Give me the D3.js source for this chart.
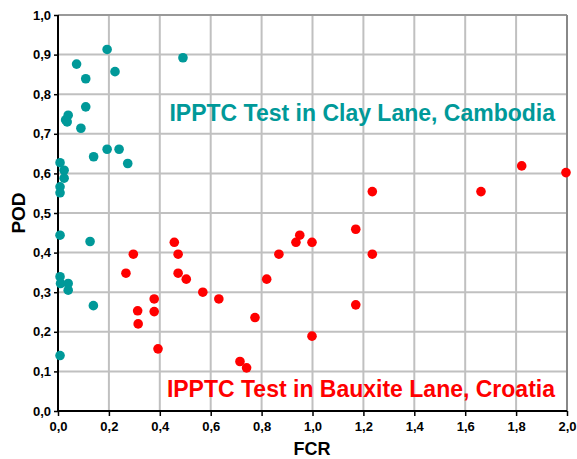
<!DOCTYPE html>
<html><head><meta charset="utf-8">
<script src="https://cdn.jsdelivr.net/npm/d3@7"></script>
<style>body{margin:0;background:#fff}svg{display:block}text{font-family:"Liberation Sans",Arial,sans-serif;font-weight:bold}</style>
</head><body>
<script>
const clayX = [0.193,0.491,0.073,0.224,0.109,0.109,0.040,0.030,0.036,0.090,0.140,0.193,0.240,0.274,0.008,0.024,0.024,0.008,0.008,0.008,0.126,0.008,0.010,0.040,0.040,0.139,0.008];
const clayY = [0.913,0.892,0.876,0.857,0.839,0.768,0.747,0.735,0.730,0.714,0.642,0.661,0.661,0.625,0.627,0.608,0.588,0.566,0.551,0.444,0.428,0.339,0.322,0.322,0.305,0.266,0.140];
const bauxX = [0.296,0.267,0.313,0.315,0.378,0.378,0.393,0.457,0.472,0.472,0.504,0.569,0.632,0.715,0.741,0.774,0.820,0.868,0.935,0.950,0.998,0.998,1.170,1.170,1.235,1.235,1.662,1.822,1.996];
const bauxY = [0.396,0.348,0.253,0.220,0.283,0.251,0.157,0.426,0.396,0.348,0.333,0.300,0.283,0.125,0.109,0.236,0.333,0.396,0.426,0.444,0.426,0.189,0.459,0.268,0.554,0.396,0.554,0.619,0.602];
const xTicks = [0,0.2,0.4,0.6,0.8,1.0,1.2,1.4,1.6,1.8,2.0];
const yTicks = [0,0.1,0.2,0.3,0.4,0.5,0.6,0.7,0.8,0.9,1.0];
const clayLabel = "IPPTC Test in Clay Lane, Cambodia";
const bauxLabel = "IPPTC Test in Bauxite Lane, Croatia";

const W=577,H=459;
const svg=d3.select("body").append("svg").attr("width",W).attr("height",H);
const x=d3.scaleLinear().domain([0,2]).range([58,567]);
const y=d3.scaleLinear().domain([0,1]).range([411,15]);
const fmt=d=>d3.format(".1f")(d).replace(".",",");

// grid
svg.append("g").selectAll("line").data(xTicks.slice(1,-1)).join("line")
  .attr("x1",d=>x(d)).attr("x2",d=>x(d)).attr("y1",y(1)).attr("y2",y(0))
  .attr("stroke","#c0c0c0").attr("stroke-width",2);
svg.append("g").selectAll("line").data(yTicks.slice(1,-1)).join("line")
  .attr("y1",d=>y(d)).attr("y2",d=>y(d)).attr("x1",x(0)).attr("x2",x(2))
  .attr("stroke","#c0c0c0").attr("stroke-width",2);
svg.append("line").attr("x1",x(0)).attr("x2",x(2)).attr("y1",y(1)).attr("y2",y(1)).attr("stroke","#999").attr("stroke-width",2);
svg.append("line").attr("x1",x(2)).attr("x2",x(2)).attr("y1",y(1)).attr("y2",y(0)).attr("stroke","#888").attr("stroke-width",2);

// axes
const xa=svg.append("g").attr("transform",`translate(0,${y(0)})`)
  .call(d3.axisBottom(x).tickValues(xTicks).tickFormat(fmt).tickSize(5).tickPadding(6));
const ya=svg.append("g").attr("transform",`translate(${x(0)},0)`)
  .call(d3.axisLeft(y).tickValues(yTicks).tickFormat(fmt).tickSize(4).tickPadding(3));
[xa,ya].forEach(a=>{
  a.select(".domain").attr("stroke","#000").attr("stroke-width",2);
  a.selectAll(".tick line").attr("stroke","#000").attr("stroke-width",1.5);
  a.selectAll(".tick text").attr("font-size",13).attr("fill","#000").attr("font-family",'"Liberation Sans",Arial,sans-serif').attr("font-weight","bold");
});
xa.select(".domain").attr("d",`M${x(0)},0H${x(2)}`);
ya.select(".domain").attr("d",`M0,${y(0)}V${y(1)}`);

// points
const clay=clayX.map((v,i)=>({x:v,y:clayY[i]}));
const baux=bauxX.map((v,i)=>({x:v,y:bauxY[i]}));
svg.append("g").selectAll("circle").data(clay).join("circle")
  .attr("cx",d=>x(d.x)).attr("cy",d=>y(d.y)).attr("r",4.8).attr("fill","#009999");
svg.append("g").selectAll("circle").data(baux).join("circle")
  .attr("cx",d=>x(d.x)).attr("cy",d=>y(d.y)).attr("r",4.8).attr("fill","#ff0000");

// labels
svg.append("text").attr("x",555).attr("y",121).attr("text-anchor","end").attr("font-size",23).attr("fill","#009999").text(clayLabel);
svg.append("text").attr("x",555).attr("y",397).attr("text-anchor","end").attr("font-size",23).attr("fill","#ff0000").text(bauxLabel);
svg.append("text").attr("x",312).attr("y",455).attr("text-anchor","middle").attr("font-size",18).attr("fill","#000").text("FCR");
svg.append("text").attr("transform",`translate(25,${y(0.5)}) rotate(-90)`).attr("text-anchor","middle").attr("font-size",19).attr("fill","#000").text("POD");
</script>
</body></html>
